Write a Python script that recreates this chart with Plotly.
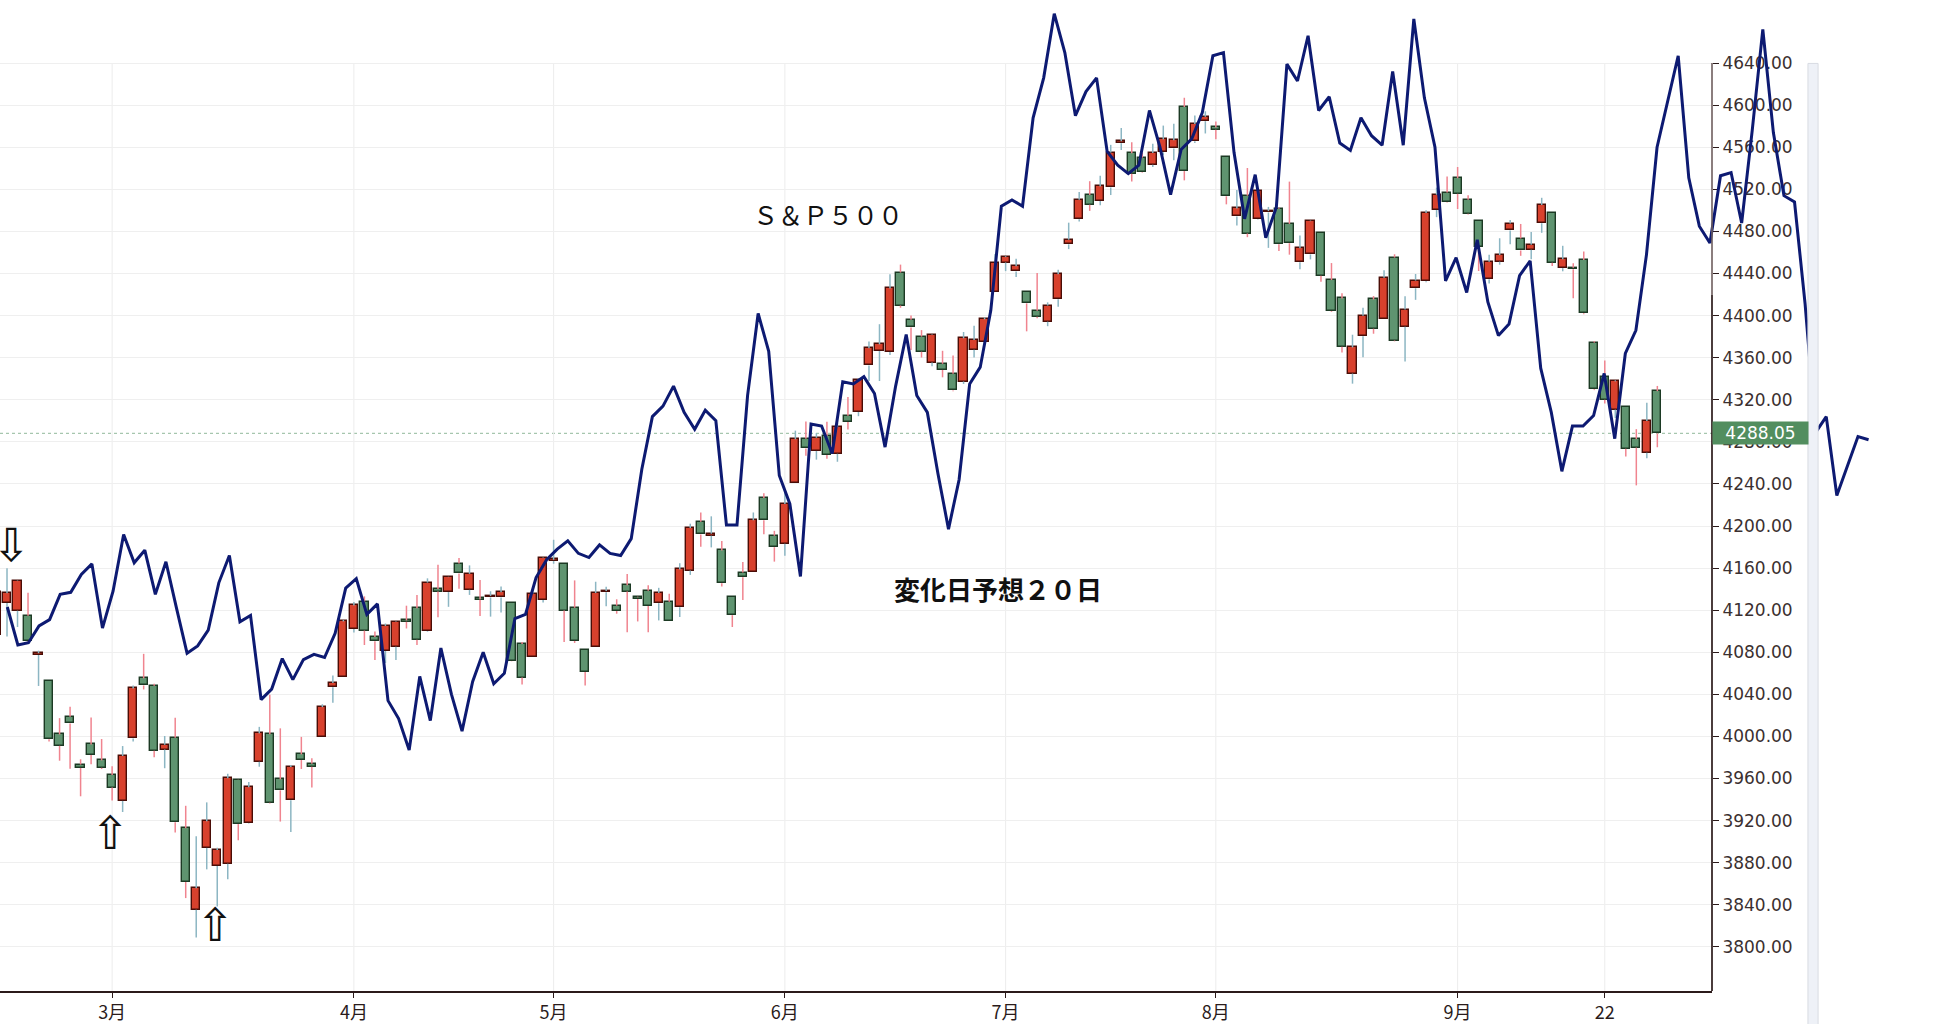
import plotly.graph_objects as go

# S&P500 daily candles (2023-02-13 .. 2023-09-29)
dates = [
    '2023-02-13', '2023-02-14', '2023-02-15', '2023-02-16', '2023-02-17', '2023-02-21', '2023-02-22',
    '2023-02-23', '2023-02-24', '2023-02-27', '2023-02-28', '2023-03-01', '2023-03-02', '2023-03-03',
    '2023-03-06', '2023-03-07', '2023-03-08', '2023-03-09', '2023-03-10', '2023-03-13', '2023-03-14',
    '2023-03-15', '2023-03-16', '2023-03-17', '2023-03-20', '2023-03-21', '2023-03-22', '2023-03-23',
    '2023-03-24', '2023-03-27', '2023-03-28', '2023-03-29', '2023-03-30', '2023-03-31', '2023-04-03',
    '2023-04-04', '2023-04-05', '2023-04-06', '2023-04-10', '2023-04-11', '2023-04-12', '2023-04-13',
    '2023-04-14', '2023-04-17', '2023-04-18', '2023-04-19', '2023-04-20', '2023-04-21', '2023-04-24',
    '2023-04-25', '2023-04-26', '2023-04-27', '2023-04-28', '2023-05-01', '2023-05-02', '2023-05-03',
    '2023-05-04', '2023-05-05', '2023-05-08', '2023-05-09', '2023-05-10', '2023-05-11', '2023-05-12',
    '2023-05-15', '2023-05-16', '2023-05-17', '2023-05-18', '2023-05-19', '2023-05-22', '2023-05-23',
    '2023-05-24', '2023-05-25', '2023-05-26', '2023-05-30', '2023-05-31', '2023-06-01', '2023-06-02',
    '2023-06-05', '2023-06-06', '2023-06-07', '2023-06-08', '2023-06-09', '2023-06-12', '2023-06-13',
    '2023-06-14', '2023-06-15', '2023-06-16', '2023-06-20', '2023-06-21', '2023-06-22', '2023-06-23',
    '2023-06-26', '2023-06-27', '2023-06-28', '2023-06-29', '2023-06-30', '2023-07-03', '2023-07-05',
    '2023-07-06', '2023-07-07', '2023-07-10', '2023-07-11', '2023-07-12', '2023-07-13', '2023-07-14',
    '2023-07-17', '2023-07-18', '2023-07-19', '2023-07-20', '2023-07-21', '2023-07-24', '2023-07-25',
    '2023-07-26', '2023-07-27', '2023-07-28', '2023-07-31', '2023-08-01', '2023-08-02', '2023-08-03',
    '2023-08-04', '2023-08-07', '2023-08-08', '2023-08-09', '2023-08-10', '2023-08-11', '2023-08-14',
    '2023-08-15', '2023-08-16', '2023-08-17', '2023-08-18', '2023-08-21', '2023-08-22', '2023-08-23',
    '2023-08-24', '2023-08-25', '2023-08-28', '2023-08-29', '2023-08-30', '2023-08-31', '2023-09-01',
    '2023-09-05', '2023-09-06', '2023-09-07', '2023-09-08', '2023-09-11', '2023-09-12', '2023-09-13',
    '2023-09-14', '2023-09-15', '2023-09-18', '2023-09-19', '2023-09-20', '2023-09-21', '2023-09-22',
    '2023-09-25', '2023-09-26', '2023-09-27', '2023-09-28', '2023-09-29',
]
opens = [
    4096.62, 4126.70, 4119.50, 4114.75, 4077.39, 4052.35, 4001.83, 4018.60, 3973.24, 3992.36, 3977.19,
    3963.34, 3938.68, 3998.02, 4055.15, 4048.26, 3987.55, 3998.66, 3912.77, 3835.12, 3894.01, 3876.74,
    3878.93, 3958.69, 3917.47, 3975.89, 4002.04, 3959.21, 3939.21, 3982.93, 3974.13, 3999.53, 4046.74,
    4056.18, 4102.20, 4128.03, 4094.50, 4081.15, 4085.20, 4110.29, 4121.72, 4100.04, 4140.11, 4137.17,
    4164.26, 4139.33, 4130.48, 4132.14, 4132.07, 4126.43, 4087.78, 4075.29, 4129.63, 4166.79, 4164.10,
    4122.25, 4082.61, 4084.73, 4136.98, 4124.25, 4143.74, 4132.24, 4138.54, 4126.65, 4127.95, 4122.85,
    4157.68, 4204.15, 4190.78, 4176.80, 4132.96, 4155.71, 4156.16, 4226.71, 4190.74, 4183.03, 4241.01,
    4282.99, 4271.34, 4285.47, 4268.69, 4304.88, 4308.32, 4352.61, 4366.29, 4365.33, 4440.95, 4396.11,
    4380.01, 4355.40, 4354.17, 4344.84, 4337.36, 4367.48, 4374.94, 4422.44, 4450.48, 4442.04, 4422.62,
    4404.54, 4394.23, 4415.55, 4467.69, 4491.50, 4514.61, 4508.86, 4521.78, 4563.87, 4554.38, 4550.16,
    4543.39, 4555.19, 4558.96, 4598.26, 4565.75, 4584.82, 4578.83, 4550.93, 4494.27, 4513.96, 4491.58,
    4498.03, 4501.57, 4487.16, 4450.69, 4458.13, 4478.87, 4433.79, 4416.32, 4344.88, 4380.28, 4415.33,
    4396.44, 4455.16, 4389.38, 4426.03, 4432.75, 4500.34, 4517.01, 4530.60, 4510.06, 4490.35, 4434.55,
    4451.30, 4480.98, 4473.27, 4462.65, 4487.78, 4497.98, 4445.13, 4445.41, 4452.81, 4374.36, 4341.74,
    4310.62, 4312.88, 4282.63, 4269.65, 4328.18,
]
highs = [
    4138.90, 4159.77, 4148.11, 4136.54, 4081.51, 4052.35, 4017.37, 4028.30, 3978.25, 4018.05, 3997.50,
    3971.73, 3990.84, 4048.29, 4078.49, 4050.00, 4000.41, 4017.81, 3934.05, 3905.05, 3937.29, 3894.26,
    3964.46, 3958.91, 3956.62, 4009.08, 4039.49, 4007.66, 3972.74, 3999.53, 3979.20, 4030.59, 4057.85,
    4110.75, 4127.66, 4133.13, 4099.69, 4107.32, 4109.50, 4124.26, 4134.37, 4150.26, 4163.19, 4151.72,
    4169.48, 4162.57, 4148.57, 4138.02, 4142.41, 4126.43, 4089.67, 4138.24, 4170.06, 4186.92, 4164.10,
    4148.30, 4082.61, 4147.02, 4142.30, 4130.35, 4154.28, 4132.80, 4143.74, 4141.25, 4135.54, 4164.67,
    4202.20, 4212.91, 4209.22, 4185.68, 4132.96, 4165.74, 4212.87, 4231.10, 4195.44, 4232.43, 4290.67,
    4299.28, 4288.33, 4299.19, 4298.01, 4322.62, 4340.13, 4375.37, 4391.82, 4439.20, 4448.47, 4400.15,
    4386.22, 4382.25, 4366.55, 4362.06, 4384.42, 4390.35, 4398.39, 4458.48, 4456.46, 4454.06, 4422.62,
    4440.39, 4412.60, 4443.64, 4488.34, 4517.38, 4527.76, 4532.85, 4562.30, 4578.43, 4564.74, 4555.00,
    4563.41, 4580.62, 4582.47, 4607.07, 4590.16, 4594.22, 4584.62, 4550.93, 4519.49, 4540.34, 4519.84,
    4503.31, 4502.44, 4527.37, 4476.23, 4490.33, 4478.87, 4449.95, 4421.17, 4381.82, 4407.55, 4418.59,
    4443.18, 4458.30, 4418.46, 4439.56, 4500.14, 4521.65, 4532.26, 4541.25, 4514.29, 4490.35, 4457.81,
    4473.53, 4490.77, 4487.11, 4479.39, 4511.99, 4497.98, 4466.36, 4449.85, 4461.03, 4375.70, 4357.40,
    4338.51, 4313.01, 4292.07, 4317.27, 4333.15,
]
lows = [
    4092.67, 4095.01, 4103.98, 4089.49, 4047.95, 3995.19, 3976.90, 3969.19, 3943.08, 3973.55, 3968.98,
    3939.05, 3928.16, 3995.17, 4044.61, 3980.31, 3969.76, 3908.70, 3846.32, 3808.86, 3873.63, 3838.24,
    3864.11, 3901.27, 3916.89, 3971.19, 3936.17, 3919.05, 3909.16, 3969.05, 3951.53, 3999.53, 4032.10,
    4056.18, 4098.79, 4086.87, 4072.56, 4069.84, 4072.55, 4102.61, 4086.94, 4099.40, 4113.20, 4123.18,
    4140.36, 4134.49, 4114.57, 4113.86, 4117.77, 4071.38, 4049.35, 4075.29, 4127.18, 4164.12, 4089.72,
    4088.86, 4048.28, 4084.73, 4123.81, 4116.65, 4098.92, 4109.29, 4099.12, 4110.27, 4109.86, 4113.62,
    4153.50, 4180.20, 4179.68, 4142.54, 4103.98, 4129.73, 4156.16, 4192.18, 4166.15, 4171.64, 4241.01,
    4266.82, 4263.09, 4263.96, 4261.07, 4291.70, 4304.37, 4337.85, 4337.85, 4362.60, 4407.44, 4367.19,
    4360.14, 4351.82, 4341.34, 4328.08, 4335.00, 4360.22, 4371.97, 4422.44, 4442.29, 4436.61, 4385.05,
    4397.40, 4389.92, 4408.46, 4463.23, 4489.36, 4499.56, 4504.90, 4514.59, 4557.48, 4527.56, 4535.79,
    4541.29, 4552.42, 4547.58, 4528.56, 4564.01, 4573.14, 4567.53, 4505.75, 4485.54, 4474.55, 4491.15,
    4464.39, 4461.33, 4457.92, 4443.98, 4453.44, 4432.19, 4403.55, 4364.83, 4335.31, 4360.30, 4382.77,
    4396.44, 4375.55, 4356.29, 4414.98, 4431.68, 4493.59, 4507.39, 4501.35, 4496.01, 4442.38, 4430.46,
    4448.38, 4467.89, 4456.83, 4453.52, 4478.69, 4447.21, 4442.11, 4416.61, 4401.38, 4329.17, 4316.49,
    4302.70, 4265.98, 4238.63, 4264.38, 4274.86,
]
closes = [
    4137.29, 4136.13, 4147.60, 4090.41, 4079.09, 3997.34, 3991.05, 4012.32, 3970.04, 3982.24, 3970.15,
    3951.39, 3981.35, 4045.64, 4048.42, 3986.37, 3992.01, 3918.32, 3861.59, 3855.76, 3919.29, 3891.93,
    3960.28, 3916.64, 3951.57, 4002.87, 3936.97, 3948.72, 3970.99, 3977.53, 3971.27, 4027.81, 4050.83,
    4109.31, 4124.51, 4100.60, 4090.38, 4105.02, 4109.11, 4108.94, 4091.95, 4146.22, 4137.64, 4151.32,
    4154.87, 4154.52, 4129.79, 4133.52, 4137.04, 4071.63, 4055.99, 4135.35, 4169.48, 4167.87, 4119.58,
    4090.75, 4061.22, 4136.25, 4138.12, 4119.17, 4137.64, 4130.62, 4124.08, 4136.28, 4109.90, 4158.77,
    4198.05, 4191.98, 4192.63, 4145.58, 4115.24, 4151.28, 4205.45, 4205.52, 4179.83, 4221.02, 4282.37,
    4273.79, 4283.85, 4267.52, 4293.93, 4298.86, 4338.93, 4369.01, 4372.59, 4425.84, 4409.59, 4388.71,
    4365.69, 4381.89, 4348.33, 4328.82, 4378.41, 4376.86, 4396.44, 4450.38, 4455.59, 4446.82, 4411.59,
    4398.95, 4409.53, 4439.26, 4472.16, 4510.04, 4505.42, 4522.79, 4554.98, 4565.72, 4534.87, 4536.34,
    4554.64, 4567.46, 4566.75, 4537.41, 4582.23, 4588.96, 4576.73, 4513.39, 4501.89, 4478.03, 4518.44,
    4499.38, 4467.71, 4468.83, 4464.05, 4489.72, 4437.86, 4404.33, 4370.36, 4369.71, 4399.77, 4387.55,
    4436.01, 4376.31, 4405.71, 4433.31, 4497.63, 4514.87, 4507.66, 4515.77, 4496.83, 4465.48, 4451.14,
    4457.49, 4487.46, 4461.90, 4467.44, 4505.10, 4450.32, 4453.53, 4443.95, 4402.20, 4330.00, 4320.06,
    4337.44, 4273.53, 4274.51, 4299.70, 4288.05,
]

# 変化日予想 line, one point per trading day starting 2/14 (runs ~20 days past the last candle)
forecast = [
    4123, 4087, 4089, 4105, 4111, 4135, 4137, 4154, 4164, 4103, 4138, 4192, 4165, 4177, 4135, 4166,
    4122, 4079, 4086, 4101, 4146, 4172, 4109, 4115, 4035, 4045, 4074, 4054, 4073, 4078, 4075, 4098,
    4141, 4150, 4116, 4126, 4034, 4017, 3987, 4057, 4015, 4084, 4040, 4005, 4052, 4080, 4050, 4060,
    4112, 4116, 4151, 4168, 4178, 4186, 4174, 4170, 4182, 4174, 4172, 4188, 4254, 4304, 4314, 4333,
    4308, 4292, 4310, 4300, 4201, 4201, 4324, 4402, 4366, 4248, 4221, 4152, 4297, 4295, 4269, 4337,
    4335, 4342, 4326, 4275, 4333, 4382, 4324, 4308, 4250, 4197, 4244, 4335, 4351, 4405, 4504, 4510,
    4504, 4588, 4626, 4687, 4650, 4590, 4613, 4626, 4556, 4543, 4535, 4543, 4595, 4560, 4515, 4558,
    4568, 4593, 4647, 4650, 4555, 4492, 4534, 4474, 4503, 4639, 4623, 4666, 4595, 4608, 4564, 4557,
    4588, 4571, 4562, 4632, 4562, 4682, 4607, 4560, 4433, 4455, 4422, 4472, 4413, 4381, 4392, 4438,
    4452, 4350, 4308, 4252, 4295, 4295, 4305, 4345, 4283, 4364, 4386, 4458, 4560, 4605, 4647, 4531,
    4485, 4469, 4533, 4536, 4488, 4576, 4672, 4574, 4514, 4508, 4411, 4289, 4304, 4229, 4256, 4285,
    4282,
]

month_ticks = ['2023-03-01', '2023-04-03', '2023-05-01', '2023-06-01', '2023-07-03',
               '2023-08-01', '2023-09-01', '2023-09-22']
month_labels = ['3月', '4月', '5月', '6月', '7月', '8月', '9月', '22']
price_ticks = list(range(3800, 4641, 40))

# arrows marked on the chart: (date, price at arrow tip, direction)
arrow_dates = ['2023-02-14', '2023-03-01', '2023-03-15']
arrow_tips = [4160, 3918, 3830]
arrow_dirs = ['down', 'up', 'up']

UP_FILL, UP_EDGE, UP_WICK = '#d8412d', '#4a0d07', '#8cb6c3'
DN_FILL, DN_EDGE, DN_WICK = '#5f9470', '#1c3a24', '#f0848f'
BLUE = '#0d1a72'
Y_LO, Y_HI = 3758, 4700

is_up = [c >= o for o, c in zip(opens, closes)]

# wicks (drawn outside the body so the body outline stays clean)
wx_up, wy_up, wx_dn, wy_dn = [], [], [], []
for d, o, h, l, c, u in zip(dates, opens, highs, lows, closes, is_up):
    top, bot = max(o, c), min(o, c)
    xs = [d, d, None, d, d, None]
    ys = [h, top, None, bot, l, None]
    if u:
        wx_up += xs
        wy_up += ys
    else:
        wx_dn += xs
        wy_dn += ys

fig = go.Figure()
fig.add_trace(go.Scatter(x=wx_up, y=wy_up, mode='lines', line=dict(color=UP_WICK, width=1.5),
                         hoverinfo='skip', showlegend=False))
fig.add_trace(go.Scatter(x=wx_dn, y=wy_dn, mode='lines', line=dict(color=DN_WICK, width=1.5),
                         hoverinfo='skip', showlegend=False))
fig.add_trace(go.Bar(
    x=dates,
    base=[min(o, c) for o, c in zip(opens, closes)],
    y=[max(abs(c - o), 1.5) for o, c in zip(opens, closes)],
    width=0.78,
    marker=dict(color=[UP_FILL if u else DN_FILL for u in is_up],
                line=dict(color=[UP_EDGE if u else DN_EDGE for u in is_up], width=1.4)),
    showlegend=False,
))
fig.add_trace(go.Scatter(
    x=list(range(1, len(forecast) + 1)), y=forecast, xaxis='x2', yaxis='y2',
    mode='lines', line=dict(color=BLUE, width=3), showlegend=False,
))

shapes = []
for d in month_ticks:
    i = dates.index(d)
    shapes.append(dict(type='line', xref='x', yref='y', x0=i, x1=i, y0=Y_LO, y1=4640,
                       line=dict(color='#ececec', width=1), layer='below'))
shapes.append(dict(type='line', xref='x domain', yref='y', x0=0, x1=1, y0=closes[-1], y1=closes[-1],
                   line=dict(color='#a6c6ae', width=1.2, dash='dot'), layer='below'))
# right price axis line (lighter in its upper part)
shapes.append(dict(type='line', xref='x domain', yref='y', x0=1, x1=1, y0=Y_LO, y1=4420,
                   line=dict(color='#1e0c0c', width=1.6)))
shapes.append(dict(type='line', xref='x domain', yref='y', x0=1, x1=1, y0=4420, y1=4640,
                   line=dict(color='#6e5e5e', width=1.6)))
# thin scrollbar strip at the right
shapes.append(dict(type='rect', xref='paper', yref='paper', x0=0.9262, x1=0.9314, y0=-0.04, y1=0.936,
                   fillcolor='#eef1f7', line=dict(color='#d8dbe2', width=1)))

annotations = [
    dict(text='Ｓ＆Ｐ５００', xref='paper', yref='paper', x=0.4242, y=0.784, xanchor='center',
         yanchor='middle', showarrow=False,
         font=dict(family='Noto Sans CJK JP', size=25, color='#111111')),
    dict(text='<b>変化日予想２０日</b>', xref='paper', yref='paper', x=0.5113, y=0.4057, xanchor='center',
         yanchor='middle', showarrow=False,
         font=dict(family='Noto Sans CJK JP', size=26, color='#111111')),
    dict(text='%.2f' % closes[-1], xref='x domain', yref='y', x=1, y=closes[-1], xanchor='left',
         showarrow=False, bgcolor='#528e5f', width=95, height=22, borderpad=0,
         font=dict(family='DejaVu Sans', size=17, color='white')),
]
arrow_yshift = {'down': -6, 'up': 19}
for d, p, dr in zip(arrow_dates, arrow_tips, arrow_dirs):
    annotations.append(dict(
        text='⇩' if dr == 'down' else '⇧', xref='x', yref='y', x=dates.index(d), y=p,
        xshift=4 if dr == 'down' else -2, yshift=arrow_yshift[dr],
        yanchor='bottom' if dr == 'down' else 'top', showarrow=False,
        font=dict(family='DejaVu Sans', size=46, color='#111111')))

fig.update_layout(
    width=1952, height=1024,
    margin=dict(l=0, r=0, t=0, b=33, pad=0),
    paper_bgcolor='white', plot_bgcolor='rgba(0,0,0,0)',
    barmode='overlay', bargap=0,
    xaxis=dict(domain=[0, 1712 / 1952], type='category', categoryorder='array', categoryarray=dates,
               range=[0.333, 163.2], tickvals=month_ticks, ticktext=month_labels,
               ticks='outside', ticklen=5, tickcolor='#2b1a1a', showline=True, linecolor='#2b1a1a',
               linewidth=1.6, showgrid=False, zeroline=False,
               tickfont=dict(family='Noto Sans CJK JP', size=18, color='#2a1b1b')),
    yaxis=dict(domain=[0, 1], range=[Y_LO, Y_HI], side='right', anchor='x', tickvals=price_ticks,
               tickformat='.2f', ticks='outside', ticklen=6, tickcolor='#2b1a1a', showline=False,
               showgrid=True, gridcolor='#efefef', gridwidth=1.2, zeroline=False,
               tickfont=dict(family='DejaVu Sans', size=17, color='#3b3030')),
    xaxis2=dict(domain=[0, 1], anchor='y2', range=[0.31, 184.89], visible=False),
    yaxis2=dict(domain=[0, 1], anchor='x2', range=[Y_LO, Y_HI], visible=False),
    shapes=shapes,
    annotations=annotations,
    showlegend=False,
)

fig.write_html("out.html", config={'displayModeBar': False},
               post_script="document.body.style.margin='0';")
